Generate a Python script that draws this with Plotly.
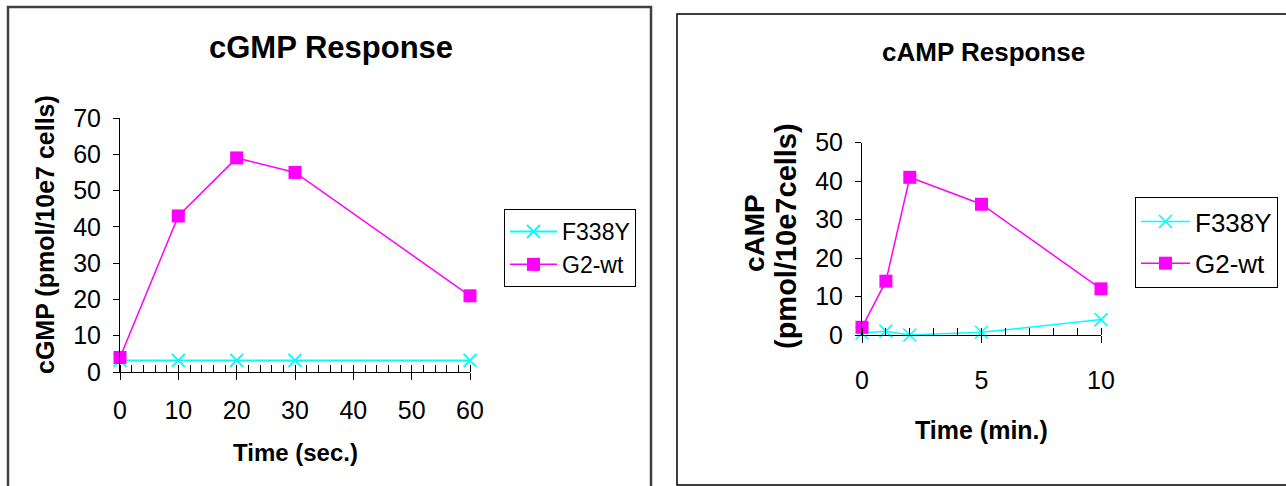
import plotly.graph_objects as go

# ---- data ----
cgmp_time = [0, 10, 20, 30, 60]
cgmp_f338y = [3.2, 3.2, 3.2, 3.2, 3.2]
cgmp_g2wt = [4, 43, 59, 55, 21]

camp_time = [0, 1, 2, 5, 10]
camp_f338y = [0.5, 1.0, 0.0, 0.7, 4.0]
camp_g2wt = [2, 14, 41, 34, 12]

series_names = ["F338Y", "G2-wt"]

W, H = 1286, 486
FONT = "Liberation Sans, Arial, sans-serif"
CYAN = "#00FFFF"
MAG = "#FF00FF"


def px(x):
    return x / W


def py(y):
    return 1 - y / H


fig = go.Figure()

# left chart traces
fig.add_trace(go.Scatter(x=cgmp_time, y=cgmp_f338y, name=series_names[0], mode="lines+markers",
                         line=dict(color=CYAN, width=2), marker=dict(symbol="x-thin", size=13,
                         line=dict(color=CYAN, width=2), color=CYAN),
                         xaxis="x", yaxis="y", legend="legend", legendgroup="a1", cliponaxis=False))
fig.add_trace(go.Scatter(x=cgmp_time, y=cgmp_g2wt, name=series_names[1], mode="lines+markers",
                         line=dict(color=MAG, width=1.5), marker=dict(symbol="square", size=13, color=MAG),
                         xaxis="x", yaxis="y", legend="legend", legendgroup="a2", cliponaxis=False))
# right chart traces
fig.add_trace(go.Scatter(x=camp_time, y=camp_f338y, name=series_names[0], mode="lines+markers",
                         line=dict(color=CYAN, width=1.5), marker=dict(symbol="x-thin", size=13,
                         line=dict(color=CYAN, width=1.5), color=CYAN),
                         xaxis="x2", yaxis="y2", legend="legend2", legendgroup="b1", cliponaxis=False))
fig.add_trace(go.Scatter(x=camp_time, y=camp_g2wt, name=series_names[1], mode="lines+markers",
                         line=dict(color=MAG, width=1.5), marker=dict(symbol="square", size=13, color=MAG),
                         xaxis="x2", yaxis="y2", legend="legend2", legendgroup="b2", cliponaxis=False))

tickfont = dict(family=FONT, size=25, color="black")
common = dict(showgrid=False, zeroline=False, showline=True, linecolor="black", linewidth=1,
              tickcolor="black", tickwidth=1, tickfont=tickfont, automargin=False, fixedrange=True)


def ann(text, x, y, size, angle=0):
    return dict(text=text, x=px(x), y=py(y), xref="paper", yref="paper", xanchor="center",
                yanchor="middle", showarrow=False, textangle=angle,
                font=dict(family=FONT, size=size, color="black"))


fig.update_layout(
    width=W, height=H,
    margin=dict(l=0, r=0, t=0, b=0),
    paper_bgcolor="white", plot_bgcolor="rgba(0,0,0,0)",
    font=dict(family=FONT, color="black"),
    xaxis=dict(domain=[px(120), px(470)], range=[0, 60], anchor="y", tickmode="linear", tick0=0, dtick=10,
               ticks="outside", ticklen=7, ticklabelstandoff=9,
               minor=dict(ticks="inside", dtick=2, ticklen=7, tickcolor="black", tickwidth=1), **common),
    yaxis=dict(domain=[py(372), py(118)], range=[0, 70], anchor="x", tickmode="linear", tick0=0, dtick=10,
               ticks="outside", ticklen=6, ticklabelstandoff=7, **common),
    xaxis3=dict(overlaying="x", anchor="y", range=[0, 60], tickmode="linear", tick0=0, dtick=10,
                ticks="inside", ticklen=7, showticklabels=False, showline=False, showgrid=False,
                zeroline=False, tickcolor="black", fixedrange=True),
    xaxis2=dict(domain=[px(862), px(1101)], range=[0, 10], anchor="y2", tickmode="linear", tick0=0, dtick=5,
                ticks="outside", ticklen=7, ticklabelstandoff=16,
                minor=dict(ticks="inside", dtick=1, ticklen=7, tickcolor="black", tickwidth=1), **common),
    yaxis2=dict(domain=[py(335), py(142.7)], range=[0, 50], anchor="x2", tickmode="linear", tick0=0, dtick=10,
                ticks="outside", ticklen=6, ticklabelstandoff=7, **common),
    xaxis4=dict(overlaying="x2", anchor="y2", range=[0, 10], tickmode="linear", tick0=0, dtick=5,
                ticks="inside", ticklen=7, showticklabels=False, showline=False, showgrid=False,
                zeroline=False, tickcolor="black", fixedrange=True),
    legend=dict(x=px(504), y=py(209), xanchor="left", yanchor="top", bordercolor="black", borderwidth=1,
                bgcolor="white", font=dict(family=FONT, size=23, color="black"), tracegroupgap=0,
                itemwidth=47),
    legend2=dict(x=px(1135), y=py(197), xanchor="left", yanchor="top", bordercolor="black", borderwidth=1,
                 bgcolor="white", font=dict(family=FONT, size=26, color="black"), tracegroupgap=5,
                 itemwidth=49),
    shapes=[
        dict(type="rect", xref="paper", yref="paper", x0=px(8), x1=px(651), y0=py(500), y1=py(7),
             line=dict(color="#404040", width=2.5), layer="below"),
        dict(type="rect", xref="paper", yref="paper", x0=px(677), x1=px(1300), y0=py(485), y1=py(14),
             line=dict(color="black", width=1.5), layer="below"),
    ],
    annotations=[
        ann("<b>cGMP Response</b>", 331, 47, 31),
        ann("<b>cAMP Response</b>", 983, 52, 26),
        ann("<b>cGMP (pmol/10e7 cells)</b>", 45, 235, 25, -90),
        ann("<b>cAMP</b>", 754, 233, 28, -90),
        ann("<b>(pmol/10e7cells)</b>", 786, 236, 29, -90),
        ann("<b>Time (sec.)</b>", 295, 452, 24),
        ann("<b>Time (min.)</b>", 981, 430, 25),
    ],
)

fig.write_html("out.html", config={"displayModeBar": False},
               post_script="document.body.style.margin='0';document.body.style.overflow='hidden';")
